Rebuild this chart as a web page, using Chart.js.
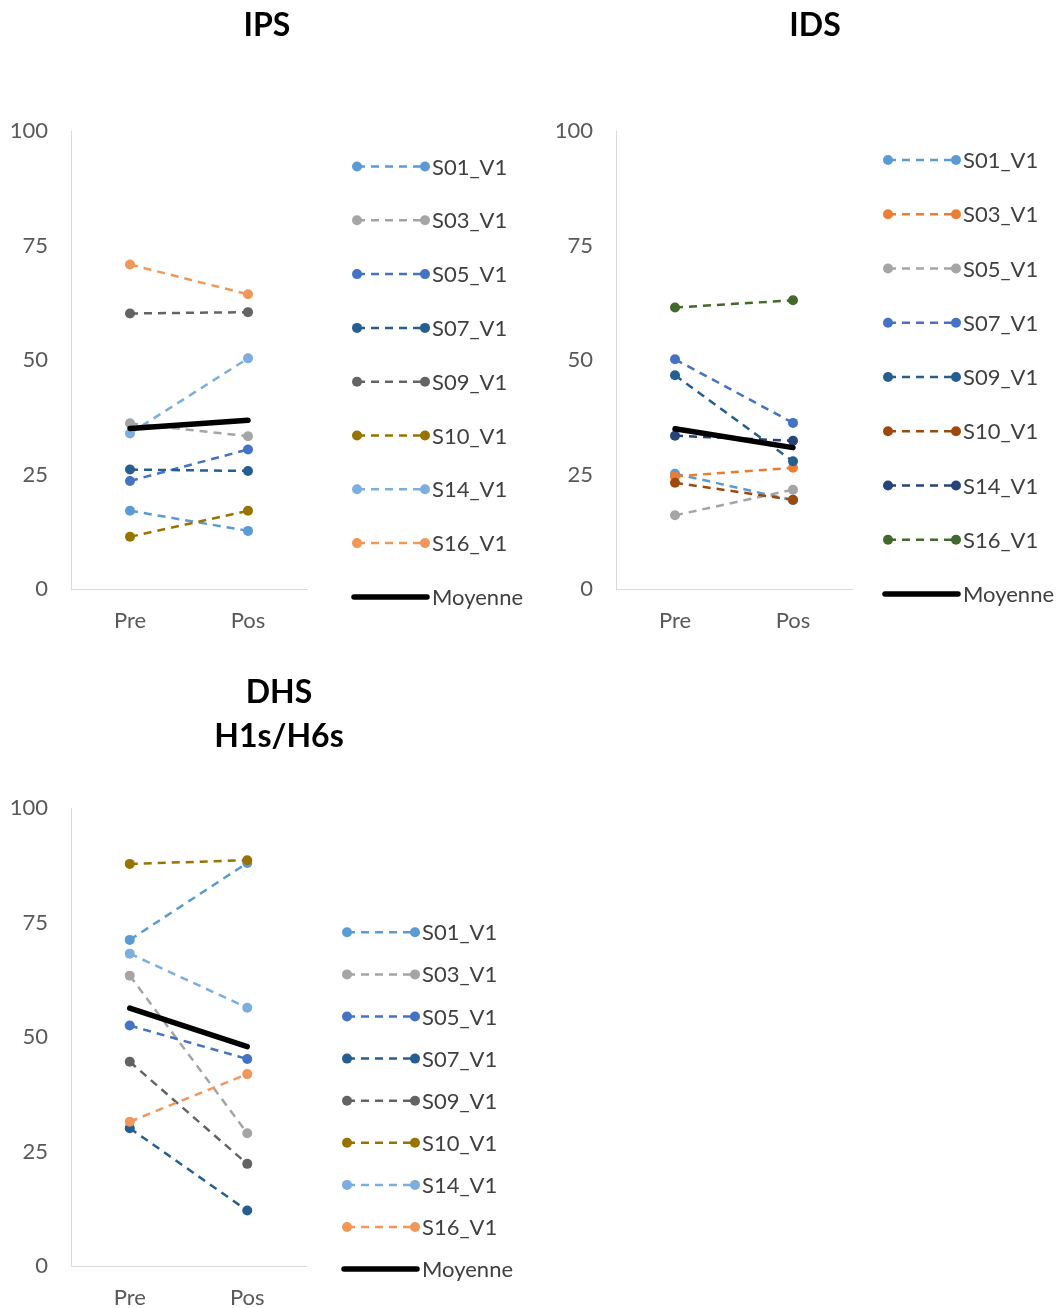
<!DOCTYPE html>
<html>
<head>
<meta charset="utf-8">
<script src="https://cdn.jsdelivr.net/npm/chart.js@4"></script>
<style>
  body { margin: 0; background: #fff; overflow: hidden; }
  canvas { position: absolute; }
</style>
</head>
<body>
<canvas id="ips" width="534" height="650" style="left:0;top:0"></canvas>
<canvas id="ids" width="540" height="650" style="left:545px;top:0"></canvas>
<canvas id="dhs" width="558" height="658" style="left:0;top:650px"></canvas>
<script>
"use strict";

const categories = ['Pre', 'Pos'];
const yTicks = [0, 25, 50, 75, 100];

const ipsNames = ['S01_V1', 'S03_V1', 'S05_V1', 'S07_V1', 'S09_V1', 'S10_V1', 'S14_V1', 'S16_V1'];
const ipsPre = [17.1, 36.2, 23.6, 26.1, 60.2, 11.4, 34.0, 70.9];
const ipsPos = [12.7, 33.4, 30.5, 25.8, 60.5, 17.1, 50.4, 64.4];
const ipsMean = [35.1, 36.9];

const idsNames = ['S01_V1', 'S03_V1', 'S05_V1', 'S07_V1', 'S09_V1', 'S10_V1', 'S14_V1', 'S16_V1'];
const idsPre = [25.2, 24.6, 16.1, 50.2, 46.7, 23.2, 33.5, 61.5];
const idsPos = [19.4, 26.5, 21.7, 36.3, 27.9, 19.5, 32.4, 63.1];
const idsMean = [35.0, 30.9];

const dhsNames = ['S01_V1', 'S03_V1', 'S05_V1', 'S07_V1', 'S09_V1', 'S10_V1', 'S14_V1', 'S16_V1'];
const dhsPre = [71.2, 63.4, 52.5, 30.1, 44.6, 87.8, 68.2, 31.5];
const dhsPos = [88.0, 29.0, 45.2, 12.1, 22.3, 88.6, 56.4, 41.9];
const dhsMean = [56.3, 47.9];

// couleurs (style)
const colorsA = ['#5B9BD5', '#A5A5A5', '#4472C4', '#255E91', '#636363', '#997300', '#7CAFDD', '#F1975A'];
const colorsB = ['#5B9BD5', '#ED7D31', '#A5A5A5', '#4472C4', '#255E91', '#9E480E', '#264478', '#43682B'];

const FONT = 'Lato';

// légende dessinée à droite du graphique
const sideLegend = {
    id: 'sideLegend',
    afterDraw(chart, args, opts) {
        const ctx = chart.ctx;
        ctx.save();
        ctx.font = '22px ' + FONT;
        ctx.textBaseline = 'middle';
        ctx.textAlign = 'left';
        chart.data.datasets.forEach((ds, i) => {
            const y = opts.y + i * opts.gap;
            ctx.strokeStyle = ds.borderColor;
            ctx.lineWidth = ds.borderWidth;
            ctx.setLineDash(ds.borderDash || []);
            ctx.lineCap = ds.borderDash ? 'butt' : 'round';
            const x1 = ds.pointRadius ? opts.x1 : opts.x1 - 3;
            const x2 = ds.pointRadius ? opts.x2 : opts.x2 + 2;
            ctx.beginPath();
            ctx.moveTo(x1, y);
            ctx.lineTo(x2, y);
            ctx.stroke();
            ctx.setLineDash([]);
            if (ds.pointRadius) {
                ctx.fillStyle = ds.borderColor;
                [opts.x1, opts.x2].forEach(x => {
                    ctx.beginPath();
                    ctx.arc(x, y, ds.pointRadius, 0, Math.PI * 2);
                    ctx.fill();
                });
            }
            ctx.fillStyle = '#404040';
            ctx.fillText(ds.label, opts.tx, y + 1);
        });
        ctx.restore();
    }
};

function makeChart(id, title, names, pre, pos, mean, colors, g) {
    const datasets = names.map((name, i) => ({
        label: name,
        data: [pre[i], pos[i]],
        borderColor: colors[i],
        backgroundColor: colors[i],
        borderWidth: 2.5,
        borderDash: [8, 6],
        pointRadius: 5,
        pointBorderWidth: 0,
        pointHoverRadius: 5,
        order: names.length + 1 - i
    }));
    datasets.push({
        label: 'Moyenne',
        data: mean,
        borderColor: '#000000',
        backgroundColor: '#000000',
        borderWidth: 5.5,
        borderCapStyle: 'round',
        pointRadius: 0,
        order: 0
    });

    const tickFont = { family: FONT, size: 22 };

    return new Chart(document.getElementById(id), {
        type: 'line',
        data: { labels: categories, datasets: datasets },
        plugins: [sideLegend],
        options: {
            responsive: false,
            animation: false,
            devicePixelRatio: 1,
            layout: { padding: { left: 0, right: 0, top: 0, bottom: g.padBottom } },
            plugins: {
                legend: { display: false },
                tooltip: { enabled: false },
                title: {
                    display: true,
                    text: title,
                    color: '#000000',
                    font: { family: FONT, size: 32, weight: 'bold', lineHeight: g.titleLH },
                    padding: { top: g.titleTop, bottom: g.titleBottom }
                },
                sideLegend: g.legend
            },
            scales: {
                x: {
                    offset: true,
                    grid: { display: false, drawTicks: false },
                    border: { display: true, color: '#D9D9D9', width: 1 },
                    ticks: { color: '#595959', font: tickFont, padding: 19 },
                    afterFit(s) { s.height = g.xHeight; }
                },
                y: {
                    min: 0,
                    max: 100,
                    afterBuildTicks(s) { s.ticks = yTicks.map(v => ({ value: v })); },
                    grid: { display: false, drawTicks: false },
                    border: { display: true, color: '#D9D9D9', width: 1 },
                    ticks: { color: '#595959', font: tickFont, padding: 23 },
                    afterFit(s) { s.width = 71; }
                },
                // place réservée à la légende
                side: {
                    type: 'linear',
                    position: 'right',
                    grid: { display: false, drawTicks: false },
                    border: { display: false },
                    ticks: { display: false },
                    afterFit(s) { s.width = g.sideWidth; }
                }
            }
        }
    });
}

makeChart('ips', 'IPS', ipsNames, ipsPre, ipsPos, ipsMean, colorsA, {
    sideWidth: 227, padBottom: 11, xHeight: 50,
    titleLH: 1.2, titleTop: 6, titleBottom: 87,
    legend: { x1: 357, x2: 425, tx: 432, y: 166.5, gap: 53.8 }
});

makeChart('ids', 'IDS', idsNames, idsPre, idsPos, idsMean, colorsB, {
    sideWidth: 233, padBottom: 11, xHeight: 50,
    titleLH: 1.2, titleTop: 6, titleBottom: 87,
    legend: { x1: 343, x2: 411, tx: 418, y: 160, gap: 54.25 }
});

makeChart('dhs', ['DHS', 'H1s/H6s'], dhsNames, dhsPre, dhsPos, dhsMean, colorsA, {
    sideWidth: 252, padBottom: 2, xHeight: 40,
    titleLH: 1.375, titleTop: 21, titleBottom: 49,
    legend: { x1: 347, x2: 415, tx: 422, y: 282.3, gap: 42.1 }
});
</script>
</body>
</html>
